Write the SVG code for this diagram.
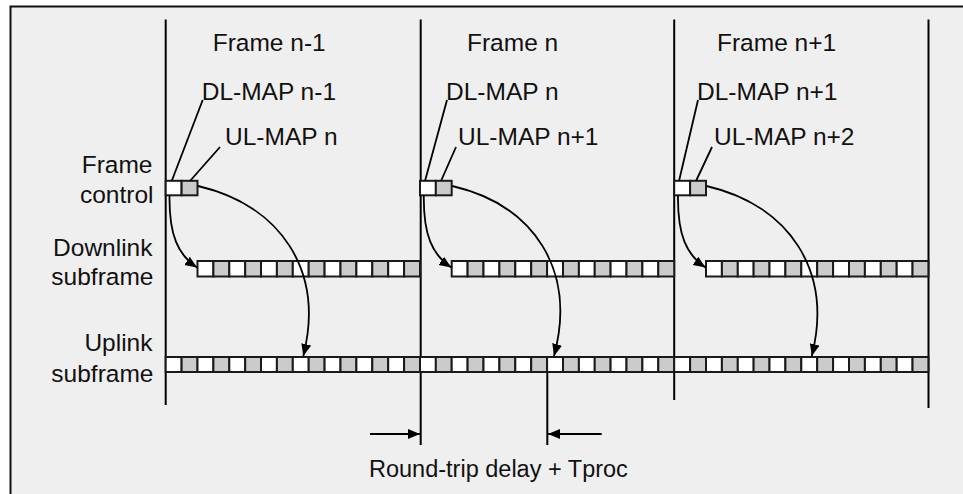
<svg xmlns="http://www.w3.org/2000/svg" width="963" height="494" viewBox="0 0 963 494">
<defs>
<marker id="ah" markerUnits="userSpaceOnUse" markerWidth="14" markerHeight="12" refX="12" refY="5" orient="auto"><path d="M0,0 L12,5 L0,10 z" fill="#000"/></marker>
<style>
.t{font-family:"Liberation Sans",Arial,sans-serif;font-size:24.5px;fill:#111}
.e{text-anchor:end}
.s{font-size:23.5px}
.w{fill:#fff;stroke:#1a1a1a;stroke-width:2}
.g{fill:#cbcbcb;stroke:#1a1a1a;stroke-width:2}
.ln{stroke:#000;stroke-width:2;fill:none}
.cv{stroke:#000;stroke-width:1.8;fill:none}
</style>
</defs>
<rect x="0" y="0" width="963" height="494" fill="#fff"/>
<rect x="10.5" y="6.5" width="970" height="510" fill="#efefef" stroke="#111" stroke-width="2"/>

<g id="frame-lines">
<line class="ln" x1="165.7" y1="19.5" x2="165.7" y2="405"/>
<line class="ln" x1="420.7" y1="19.5" x2="420.7" y2="445"/>
<line class="ln" x1="674.2" y1="19.5" x2="674.2" y2="400"/>
<line class="ln" x1="928.5" y1="19.5" x2="928.5" y2="408"/>
<line class="ln" x1="547.3" y1="372" x2="547.3" y2="445"/>
</g>

<g id="row-labels">
<text class="t e" x="152.5" y="173">Frame</text>
<text class="t e" x="153.5" y="203">control</text>
<text class="t e" x="152.5" y="256">Downlink</text>
<text class="t e" x="153.5" y="285">subframe</text>
<text class="t e" x="152.5" y="350.5">Uplink</text>
<text class="t e" x="153.5" y="381.5">subframe</text>
</g>

<g id="frame-labels">
<text class="t" x="212.7" y="51">Frame n-1</text>
<text class="t" x="467" y="51">Frame n</text>
<text class="t" x="717" y="51">Frame n+1</text>
</g>

<g id="map-labels">
<text class="t" x="201.7" y="99.5">DL-MAP n-1</text>
<text class="t" x="446" y="99.5">DL-MAP n</text>
<text class="t" x="697" y="99.5">DL-MAP n+1</text>
<text class="t" x="225" y="145">UL-MAP n</text>
<text class="t" x="458" y="145">UL-MAP n+1</text>
<text class="t" x="714" y="145">UL-MAP n+2</text>
</g>

<g id="frame-control">
<rect class="w" x="165.7" y="180.8" width="15.9" height="14.5"/>
<rect class="g" x="181.6" y="180.8" width="15.9" height="14.5"/>
<rect class="w" x="420.0" y="180.8" width="15.9" height="14.5"/>
<rect class="g" x="435.8" y="180.8" width="15.9" height="14.5"/>
<rect class="w" x="674.2" y="180.8" width="15.9" height="14.5"/>
<rect class="g" x="690.1" y="180.8" width="15.9" height="14.5"/>
</g>

<g id="downlink-subframe">
<rect class="w" x="197.5" y="261" width="15.9" height="15.5"/>
<rect class="g" x="213.4" y="261" width="15.9" height="15.5"/>
<rect class="w" x="229.3" y="261" width="15.9" height="15.5"/>
<rect class="g" x="245.2" y="261" width="15.9" height="15.5"/>
<rect class="w" x="261.0" y="261" width="15.9" height="15.5"/>
<rect class="g" x="276.9" y="261" width="15.9" height="15.5"/>
<rect class="w" x="292.8" y="261" width="15.9" height="15.5"/>
<rect class="g" x="308.7" y="261" width="15.9" height="15.5"/>
<rect class="w" x="324.6" y="261" width="15.9" height="15.5"/>
<rect class="g" x="340.5" y="261" width="15.9" height="15.5"/>
<rect class="w" x="356.4" y="261" width="15.9" height="15.5"/>
<rect class="g" x="372.3" y="261" width="15.9" height="15.5"/>
<rect class="w" x="388.2" y="261" width="15.9" height="15.5"/>
<rect class="g" x="404.1" y="261" width="15.9" height="15.5"/>
<rect class="w" x="451.7" y="261" width="15.9" height="15.5"/>
<rect class="g" x="467.6" y="261" width="15.9" height="15.5"/>
<rect class="w" x="483.5" y="261" width="15.9" height="15.5"/>
<rect class="g" x="499.4" y="261" width="15.9" height="15.5"/>
<rect class="w" x="515.3" y="261" width="15.9" height="15.5"/>
<rect class="g" x="531.2" y="261" width="15.9" height="15.5"/>
<rect class="w" x="547.1" y="261" width="15.9" height="15.5"/>
<rect class="g" x="563.0" y="261" width="15.9" height="15.5"/>
<rect class="w" x="578.9" y="261" width="15.9" height="15.5"/>
<rect class="g" x="594.7" y="261" width="15.9" height="15.5"/>
<rect class="w" x="610.6" y="261" width="15.9" height="15.5"/>
<rect class="g" x="626.5" y="261" width="15.9" height="15.5"/>
<rect class="w" x="642.4" y="261" width="15.9" height="15.5"/>
<rect class="g" x="658.3" y="261" width="15.9" height="15.5"/>
<rect class="w" x="706.0" y="261" width="15.9" height="15.5"/>
<rect class="g" x="721.9" y="261" width="15.9" height="15.5"/>
<rect class="w" x="737.8" y="261" width="15.9" height="15.5"/>
<rect class="g" x="753.6" y="261" width="15.9" height="15.5"/>
<rect class="w" x="769.5" y="261" width="15.9" height="15.5"/>
<rect class="g" x="785.4" y="261" width="15.9" height="15.5"/>
<rect class="w" x="801.3" y="261" width="15.9" height="15.5"/>
<rect class="g" x="817.2" y="261" width="15.9" height="15.5"/>
<rect class="w" x="833.1" y="261" width="15.9" height="15.5"/>
<rect class="g" x="849.0" y="261" width="15.9" height="15.5"/>
<rect class="w" x="864.9" y="261" width="15.9" height="15.5"/>
<rect class="g" x="880.8" y="261" width="15.9" height="15.5"/>
<rect class="w" x="896.7" y="261" width="15.9" height="15.5"/>
<rect class="g" x="912.5" y="261" width="15.9" height="15.5"/>
</g>

<g id="uplink-subframe">
<rect class="w" x="165.7" y="357" width="15.9" height="15"/>
<rect class="g" x="181.6" y="357" width="15.9" height="15"/>
<rect class="w" x="197.5" y="357" width="15.9" height="15"/>
<rect class="g" x="213.4" y="357" width="15.9" height="15"/>
<rect class="w" x="229.3" y="357" width="15.9" height="15"/>
<rect class="g" x="245.2" y="357" width="15.9" height="15"/>
<rect class="w" x="261.0" y="357" width="15.9" height="15"/>
<rect class="g" x="276.9" y="357" width="15.9" height="15"/>
<rect class="w" x="292.8" y="357" width="15.9" height="15"/>
<rect class="g" x="308.7" y="357" width="15.9" height="15"/>
<rect class="w" x="324.6" y="357" width="15.9" height="15"/>
<rect class="g" x="340.5" y="357" width="15.9" height="15"/>
<rect class="w" x="356.4" y="357" width="15.9" height="15"/>
<rect class="g" x="372.3" y="357" width="15.9" height="15"/>
<rect class="w" x="388.2" y="357" width="15.9" height="15"/>
<rect class="g" x="404.1" y="357" width="15.9" height="15"/>
<rect class="w" x="420.0" y="357" width="15.9" height="15"/>
<rect class="g" x="435.8" y="357" width="15.9" height="15"/>
<rect class="w" x="451.7" y="357" width="15.9" height="15"/>
<rect class="g" x="467.6" y="357" width="15.9" height="15"/>
<rect class="w" x="483.5" y="357" width="15.9" height="15"/>
<rect class="g" x="499.4" y="357" width="15.9" height="15"/>
<rect class="w" x="515.3" y="357" width="15.9" height="15"/>
<rect class="g" x="531.2" y="357" width="15.9" height="15"/>
<rect class="w" x="547.1" y="357" width="15.9" height="15"/>
<rect class="g" x="563.0" y="357" width="15.9" height="15"/>
<rect class="w" x="578.9" y="357" width="15.9" height="15"/>
<rect class="g" x="594.7" y="357" width="15.9" height="15"/>
<rect class="w" x="610.6" y="357" width="15.9" height="15"/>
<rect class="g" x="626.5" y="357" width="15.9" height="15"/>
<rect class="w" x="642.4" y="357" width="15.9" height="15"/>
<rect class="g" x="658.3" y="357" width="15.9" height="15"/>
<rect class="w" x="674.2" y="357" width="15.9" height="15"/>
<rect class="g" x="690.1" y="357" width="15.9" height="15"/>
<rect class="w" x="706.0" y="357" width="15.9" height="15"/>
<rect class="g" x="721.9" y="357" width="15.9" height="15"/>
<rect class="w" x="737.8" y="357" width="15.9" height="15"/>
<rect class="g" x="753.6" y="357" width="15.9" height="15"/>
<rect class="w" x="769.5" y="357" width="15.9" height="15"/>
<rect class="g" x="785.4" y="357" width="15.9" height="15"/>
<rect class="w" x="801.3" y="357" width="15.9" height="15"/>
<rect class="g" x="817.2" y="357" width="15.9" height="15"/>
<rect class="w" x="833.1" y="357" width="15.9" height="15"/>
<rect class="g" x="849.0" y="357" width="15.9" height="15"/>
<rect class="w" x="864.9" y="357" width="15.9" height="15"/>
<rect class="g" x="880.8" y="357" width="15.9" height="15"/>
<rect class="w" x="896.7" y="357" width="15.9" height="15"/>
<rect class="g" x="912.5" y="357" width="15.9" height="15"/>
</g>

<g id="connectors">
<line class="cv" x1="171.7" y1="181" x2="202.7" y2="100"/>
<line class="cv" x1="190" y1="181" x2="220" y2="147"/>
<line class="cv" x1="425" y1="181" x2="447" y2="100"/>
<line class="cv" x1="441" y1="181" x2="456" y2="147"/>
<line class="cv" x1="679" y1="181" x2="698" y2="100"/>
<line class="cv" x1="696" y1="181" x2="712" y2="147"/>
<path class="cv" d="M169.5,195.5 C169,235 178,255 197,267.5" marker-end="url(#ah)"/>
<path class="cv" d="M198,186 C280,205 325,270 303.3,356" marker-end="url(#ah)"/>
<path class="cv" d="M423.8,195.5 C423.3,235 432.3,255 451.3,267.5" marker-end="url(#ah)"/>
<path class="cv" d="M452.3,186 C534,205 577,270 554,356" marker-end="url(#ah)"/>
<path class="cv" d="M678,195.5 C677.5,235 686.5,255 705.5,267.5" marker-end="url(#ah)"/>
<path class="cv" d="M706.5,186 C788.5,205 833.5,270 811.8,356" marker-end="url(#ah)"/>
<line class="cv" x1="370" y1="434" x2="420" y2="434" marker-end="url(#ah)"/>
<line class="cv" x1="601.7" y1="434" x2="548" y2="434" marker-end="url(#ah)"/>
</g>

<g id="delay-label">
<text class="t s" x="369" y="476.5">Round-trip delay + Tproc</text>
</g>
</svg>
